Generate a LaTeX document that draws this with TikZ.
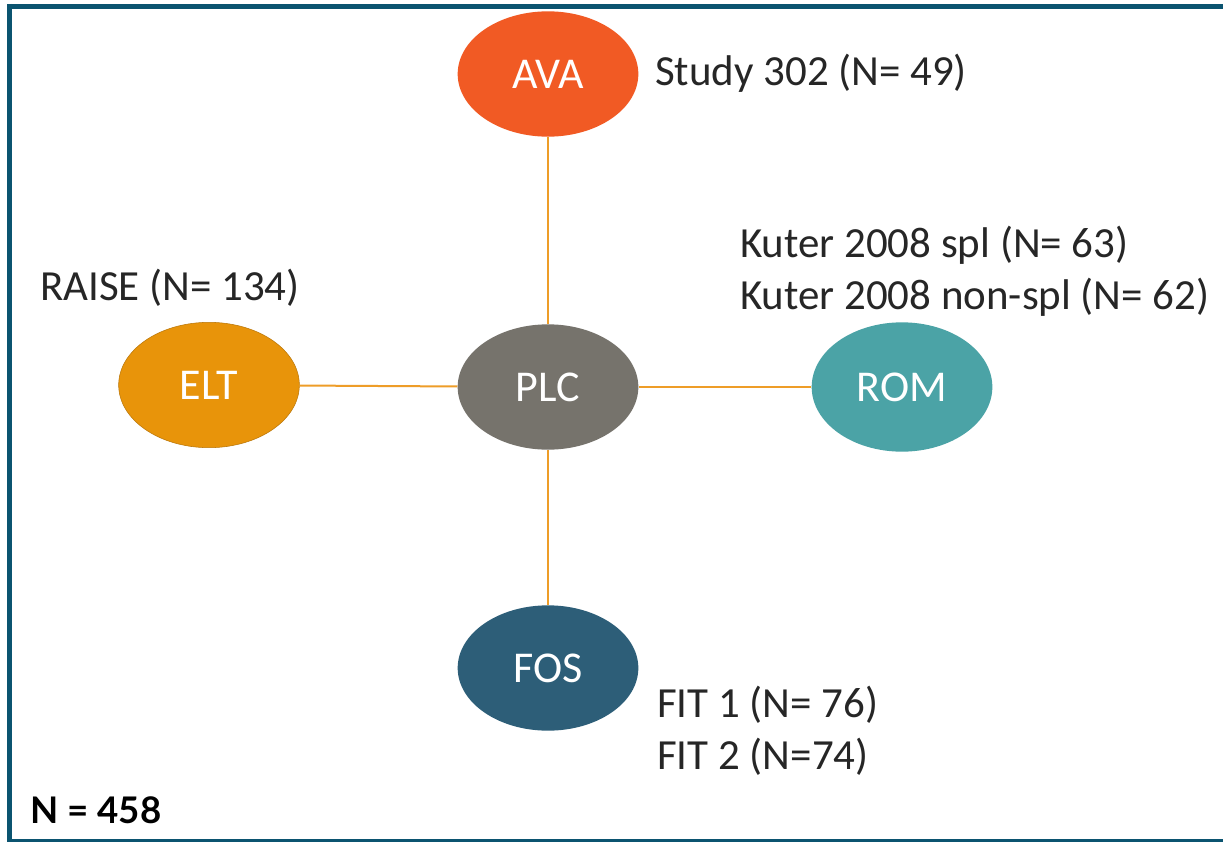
\documentclass[tikz,border=0pt]{standalone}
\usepackage{fontspec}
\setmainfont{Carlito}
\newfontfamily\latofont{Lato}
\usetikzlibrary{shapes.geometric}
\definecolor{frame}{HTML}{0B5470}
\definecolor{avac}{HTML}{F15A24}
\definecolor{eltc}{HTML}{E8940A}
\definecolor{plcc}{HTML}{76736C}
\definecolor{romc}{HTML}{4BA3A6}
\definecolor{fosc}{HTML}{2D5E78}
\definecolor{linkc}{HTML}{EE9D28}
\definecolor{txt}{HTML}{262626}
\tikzset{
  oval/.style={ellipse, draw=none, inner sep=0pt, minimum width=135.5pt, minimum height=94pt, text=white, font=\fontsize{33}{38}\selectfont},
  lbl/.style={anchor=west, text=txt, inner sep=0pt, font=\fontsize{32.2}{38}\selectfont},
  link/.style={draw=linkc, line width=1.5pt}
}
\begin{document}
\begin{tikzpicture}[x=0.75pt,y=-0.75pt]
\useasboundingbox (0,0) rectangle (1223,842);
\fill[white] (0,0) rectangle (1223,842);
% frame
\draw[frame, line width=3.8pt] (7,6.5) -- (1223,6.5);
\draw[frame, line width=3.8pt] (9.5,4) -- (9.5,842);
\draw[frame, line width=1.6pt] (7,840.5) -- (1223,840.5);
% nodes
\node[oval, fill=avac] (ava) at (548,74) {AVA};
\node[oval, fill=plcc] (plc) at (548,387) {PLC};
\node[oval, fill=eltc, draw=eltc!80!black, line width=0.4pt] (elt) at (209,385) {ELT};
\node[oval, fill=romc, minimum height=97pt] (rom) at (902,387) {ROM};
\node[oval, fill=fosc] (fos) at (548,668) {FOS};
% links
\draw[link] (ava) -- (plc);
\draw[link] (elt) -- (plc);
\draw[link] (plc) -- (rom);
\draw[link] (plc) -- (fos);
% labels
\node[lbl] (l1) at (655,73) {Study 302 (N= 49)};
\node[lbl] (l2) at (740,245) {Kuter 2008 spl (N= 63)};
\node[lbl] (l3) at (740,297) {Kuter 2008 non-spl (N= 62)};
\node[lbl] (l4) at (40,288) {RAISE (N= 134)};
\node[lbl] (l5) at (657,705) {FIT 1 (N= 76)};
\node[lbl] (l6) at (657,757) {FIT 2 (N=74)};
\node[anchor=west, inner sep=0pt, text=black, font=\latofont\bfseries\fontsize{27.5}{33}\selectfont] (total) at (30,810) {N = 458};
\end{tikzpicture}
\end{document}
